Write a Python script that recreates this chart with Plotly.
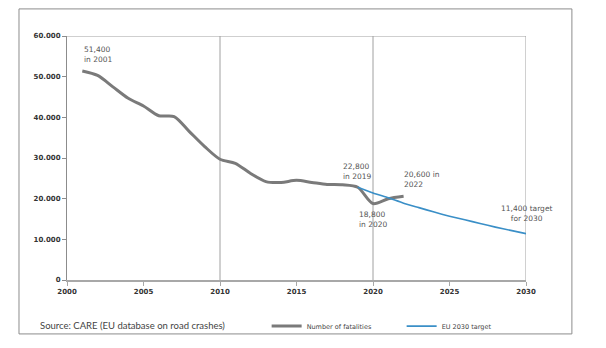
import plotly.graph_objects as go

# Road fatalities in the EU and the 2030 target path
years = list(range(2001, 2023))
fatalities = [51400, 50300, 47500, 44700, 42800, 40400, 40200, 36500, 32800, 29700,
              28700, 26200, 24200, 24000, 24500, 24000, 23500, 23400, 22800, 18800,
              20000, 20600]

target_years = list(range(2019, 2031))
target = [22800, 21400, 20200, 18900, 17800, 16700, 15700, 14800, 13900, 13000,
          12200, 11400]

x_ticks = [2000, 2005, 2010, 2015, 2020, 2025, 2030]
y_ticks = [0, 10000, 20000, 30000, 40000, 50000, 60000]

label_font = dict(family="DejaVu Sans", size=7.5, color="#555555")

fig = go.Figure()
fig.add_trace(go.Scatter(
    x=years, y=fatalities, mode="lines", name="Number of fatalities",
    line=dict(color="#7a7a7a", width=3, shape="spline", smoothing=0.8),
    hoverinfo="skip"))
fig.add_trace(go.Scatter(
    x=target_years, y=target, mode="lines", name="EU 2030 target",
    line=dict(color="#3a8fc7", width=1.6, shape="spline", smoothing=0.6),
    hoverinfo="skip"))

# vertical guide lines and the top/right edges of the plot box
for yr in (2010, 2020, 2030):
    fig.add_shape(type="line", xref="x", yref="y", x0=yr, x1=yr, y0=0, y1=60000,
                  line=dict(color="#a0a0a0", width=1), layer="below")
fig.add_shape(type="line", xref="x", yref="y", x0=2000, x1=2030, y0=60000, y1=60000,
              line=dict(color="#a0a0a0", width=1), layer="below")

# outer frame around the whole chart
fig.add_shape(type="rect", xref="paper", yref="paper",
              x0=-0.1046, x1=1.100, y0=-0.221, y1=1.111,
              line=dict(color="#8c8c8c", width=1))

# value labels
fig.add_annotation(x=years[0], y=fatalities[0], text="51,400<br>in 2001",
                   xanchor="left", yanchor="bottom", yshift=5, align="left",
                   showarrow=False, font=label_font)
fig.add_annotation(x=2019, y=22800, text="22,800<br>in 2019",
                   xanchor="center", yanchor="bottom", yshift=4, align="left",
                   showarrow=False, font=label_font)
fig.add_annotation(x=2020, y=18800, text="18,800<br>in 2020",
                   xanchor="center", yanchor="top", yshift=-4, align="left",
                   showarrow=False, font=label_font)
fig.add_annotation(x=2022, y=20600, text="20,600 in<br>2022",
                   xanchor="left", yanchor="bottom", yshift=5, xshift=-2, align="left",
                   showarrow=False, font=label_font)
fig.add_annotation(x=2030, y=11400, text="11,400 target<br>for 2030",
                   xanchor="center", yanchor="bottom", yshift=9, align="center",
                   showarrow=False, font=label_font)

fig.add_annotation(xref="paper", yref="paper", x=-0.064, y=-0.186,
                   text="Source: CARE (EU database on road crashes)",
                   xanchor="left", yanchor="middle", showarrow=False,
                   font=dict(family="Lato", size=9.5, color="#444444"))

fig.update_layout(
    width=606, height=348,
    margin=dict(l=67, r=80, t=36, b=68, autoexpand=False),
    paper_bgcolor="white", plot_bgcolor="white",
    separators=",.",
    showlegend=True,
    legend=dict(orientation="h", xref="container", yref="container",
                x=0.44, y=0.063, xanchor="left", yanchor="middle",
                font=dict(family="DejaVu Sans", size=6.5, color="#444444"),
                bgcolor="rgba(0,0,0,0)", entrywidth=90, itemwidth=30,
                tracegroupgap=0),
    xaxis=dict(range=[2000, 2030], tickvals=x_ticks, showgrid=False, zeroline=False,
               showline=True, linecolor="#a8a8a8", linewidth=2,
               ticks="outside", ticklen=4, tickcolor="#a8a8a8",
               tickfont=dict(family="DejaVu Sans", size=7, color="#333333", weight="bold"),
               fixedrange=True),
    yaxis=dict(range=[0, 60000], tickvals=y_ticks, tickformat=",d", showgrid=False,
               zeroline=False, showline=True, linecolor="#8c8c8c", linewidth=1,
               ticks="outside", ticklen=4, tickcolor="#8c8c8c",
               tickfont=dict(family="DejaVu Sans", size=7, color="#333333", weight="bold"),
               fixedrange=True),
)

fig.write_html("out.html")
